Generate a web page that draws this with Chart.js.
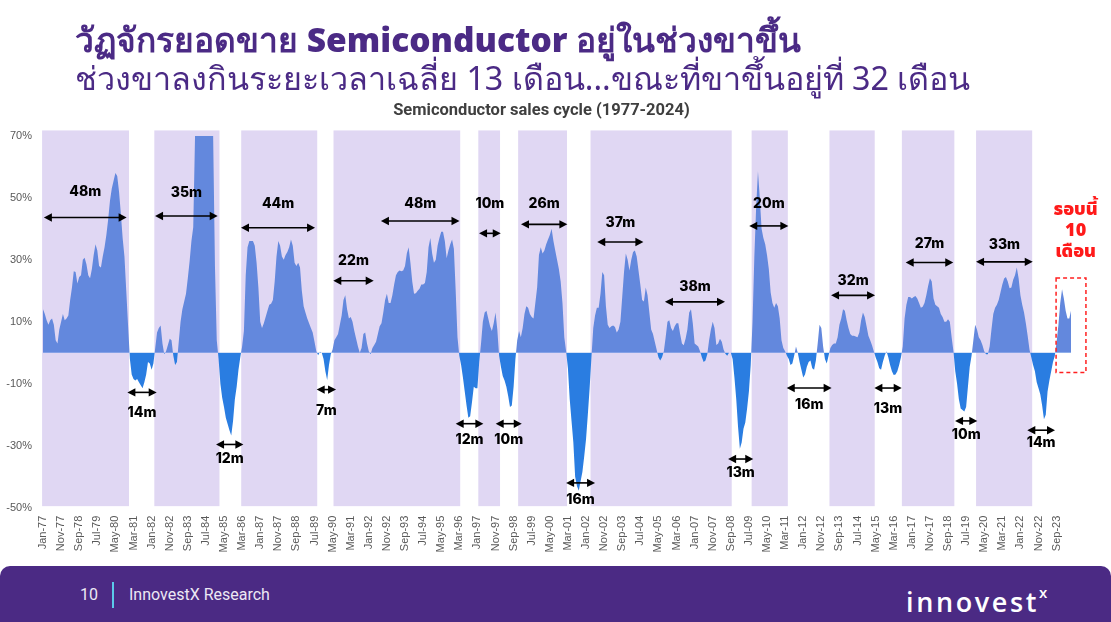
<!DOCTYPE html>
<html>
<head>
<meta charset="utf-8">
<script src="https://cdn.jsdelivr.net/npm/chart.js@4.4.1/dist/chart.umd.min.js"></script>
<style>
  html, body { margin: 0; padding: 0; background: #ffffff; }
  body { width: 1111px; height: 622px; position: relative; overflow: hidden; font-family: "Noto Sans", "DejaVu Sans", sans-serif; }
  #c { position: absolute; left: 0; top: 0; }
  .t1 { position: absolute; left: 75px; top: 19px; font-size: 33.5px; font-weight: 900; color: #4B2A85; white-space: nowrap; line-height: 40px; }
  .t2 { position: absolute; left: 75px; top: 56px; font-size: 32.3px; font-weight: 400; color: #4B2A85; white-space: nowrap; line-height: 42px; }
  .sub { position: absolute; left: 0; width: 1083px; top: 99px; text-align: center; font-family: Roboto, "Liberation Sans", sans-serif; font-weight: 700; font-size: 16.5px; color: #3F3F3F; line-height: 22px; }
  .footer { position: absolute; left: 0; top: 566px; width: 1111px; height: 56px; background: #4B2A84; border-radius: 10px 10px 0 0; }
  .pg { position: absolute; left: 80px; top: 584px; font-family: Roboto, sans-serif; font-size: 16px; color: #ECE8F4; line-height: 22px; }
  .bar { position: absolute; left: 112px; top: 582px; width: 2px; height: 26px; background: #5CC9EA; }
  .brand { position: absolute; left: 129px; top: 584px; font-family: Roboto, sans-serif; font-size: 16px; color: #ECE8F4; line-height: 22px; }
  .logo { position: absolute; left: 906px; top: 579px; font-family: "Open Sans", sans-serif; font-weight: 600; font-size: 27px; color: #ffffff; letter-spacing: 2.6px; line-height: 34px; }
  .logo sup { font-size: 15px; position: relative; top: -4px; margin-left: 0px; }
</style>
</head>
<body>
<canvas id="c" width="1111" height="622"></canvas>
<div class="t1">วัฏจักรยอดขาย Semiconductor อยู่ในช่วงขาขึ้น</div>
<div class="t2">ช่วงขาลงกินระยะเวลาเฉลี่ย 13 เดือน...ขณะที่ขาขึ้นอยู่ที่ 32 เดือน</div>
<div class="sub">Semiconductor sales cycle (1977-2024)</div>
<div class="footer"></div>
<div class="pg">10</div>
<div class="bar"></div>
<div class="brand">InnovestX Research</div>
<div class="logo">innovest<sup>x</sup></div>
<script>
// ---------- DATA ----------
const monthNames = ['Jan','Feb','Mar','Apr','May','Jun','Jul','Aug','Sep','Oct','Nov','Dec'];
const firstYear = 1977;
const monthCount = 569; // Jan-77 .. May-24
const monthLabels = [];
for (let i = 0; i < monthCount; i++) {
  const y = firstYear + Math.floor(i / 12);
  monthLabels.push(monthNames[i % 12] + '-' + String(y % 100).padStart(2, '0'));
}

// YoY semiconductor sales growth (%), one value per month
const salesGrowth = [
  14, 12.5, 10.5, 9, 10.5, 11, 9, 4, 3, 7.5, 10, 12.5,
  10.5, 11, 12, 17, 21, 26.3, 26, 22.3, 24.4, 25, 30, 30.6,
  28.5, 25, 24, 27, 31.5, 35, 33, 28, 27.5, 31, 34, 38,
  43, 49, 53, 55.5, 58, 57, 52, 45, 37, 31, 20, 8.8,
  -2, -7, -8.5, -9, -8.5, -9.5, -10.5, -11.5, -9.5, -7, -3, -3.5,
  -5.5, -3.5, 1.5, 6.5, 8, 8.8, 3, -0.5, 0.5, 2.5, 4.5, 4,
  -1, -4, -3, 3.5, 10, 14, 16.5, 19, 24, 29.5, 36, 40.5,
  70, 70, 70, 70, 70, 70, 70, 70, 70, 70, 70, 28,
  4, -2, -10, -14.5, -17.5, -21, -23, -25, -26.7, -22, -15, -11,
  -5.5, -1.5, 2, 7, 25, 34, 36, 36, 36, 34.5, 29, 21,
  10, 8, 9.5, 11.5, 13.5, 15.5, 15.8, 17, 23, 31, 36, 34.5,
  31, 30, 31.5, 32.5, 34, 36.5, 34.5, 29, 28, 29, 27.5, 20,
  15, 13, 11, 9.5, 8, 6.5, 3.5, 0.5, -0.8, 0.3, 0, -2,
  -6, -8.8, -4, -0.5, 1, 4, 5, 6, 9, 12, 17, 18.5,
  14, 11, 11.5, 10, 7, 4.5, 2, 0, 1.5, 6, 6.5, 3,
  0.5, -0.5, 1.5, 2.5, 3.5, 6, 8.5, 9.5, 13, 17, 19, 16,
  16, 18.5, 22, 25, 26, 26.5, 26.3, 26.5, 28, 32, 34, 29,
  23, 19, 19.2, 20, 20.6, 22, 22, 22.5, 26, 34, 37, 32,
  29, 30, 34.5, 37, 39, 39, 36, 30.5, 33, 35, 36.5, 33.5,
  20, 5, -1, -4, -8, -12.5, -17, -21, -20.5, -16, -11, -11.5,
  -11.5, -3, 3, 10, 13, 13.5, 11, 8.5, 7, 9.5, 13, 7.5,
  -1, -4.5, -7.5, -9, -11, -14, -17.5, -17, -11, -2, 4, 7,
  5, 8, 12.5, 15, 14.5, 12.5, 11.5, 11, 16, 21, 31.5, 34,
  32, 33, 35, 36.5, 38, 40, 36, 33, 30, 27, 23, 16,
  5, 0.5, -5, -15, -22, -29, -40, -43, -44.5, -41.5, -38.5, -33.5,
  -28, -20, -11.5, -1.5, 8, 12, 14.5, 14.5, 19, 26, 25, 15,
  9, 8, 8.5, 8.8, 8.3, 6.5, 7.5, 10, 18, 26, 32, 30,
  26.5, 30, 32.5, 33, 31, 26.5, 22, 17, 16.5, 21, 18.5, 13,
  7.5, 6, 3.5, 1, -1.5, -2.5, -1.5, 0.5, 5, 10, 10.5, 8,
  7, 8.5, 9.5, 9.5, 6, 3, 2.4, 4.5, 7.5, 13, 14, 9.5,
  3, 2.5, 2, 0.5, -1.5, -3, -2.5, -0.5, 4, 7.5, 10, 8,
  2.5, 3, 4.5, 3.5, 1, -0.3, -1, 0, 0, -2, -8, -15,
  -24, -31, -29, -24.5, -22.5, -18, -12.5, -4, 10, 31, 47, 58.5,
  50, 40, 37, 35, 31.5, 27, 19.5, 16, 14.5, 16, 15, 11,
  4, 1.5, 0.5, -1, -2, -4, -3.5, -1, 2, 0, -3, -5.5,
  -8, -7, -4.5, -3, -2.5, -5, -5.5, -2.5, 3, 9, 8, 2,
  -2, -3.5, -1, 1.5, 2.5, 3, 3, 5, 9, 11, 14, 13.5,
  10.5, 8, 6, 5.5, 5.5, 5.2, 5, 6.5, 10.5, 13, 11.5, 8.5,
  5.5, 4, 2.4, 0.5, -1.5, -3, -5, -5.5, -3, -1, 0.5, -1.5,
  -4, -6, -7.2, -7, -6, -4, -1.5, 2, 11, 15.5, 18, 18,
  17.5, 18, 18.3, 17.5, 16, 14.5, 14.8, 16, 18.5, 21.5, 24, 23,
  17.5, 15.5, 15, 14.5, 12.5, 11.5, 10, 10, 10.8, 10, 5, 0.5,
  -6, -10, -15, -18, -18.5, -19, -17.5, -11, -4.5, -1, 4, 9,
  7.5, 5, 4, 2.5, 0.5, -0.5, -0.5, 2, 7.5, 12.5, 14.5, 15.5,
  17, 19.5, 22, 23.9, 24.4, 23, 20.8, 21, 23.5, 25, 27.5, 24,
  18.5, 15.5, 13, 9.5, 5.5, 1, -1.5, -4, -6, -9.5, -11.5, -13.5,
  -17, -21.5, -20, -12.5, -9, -6, -3, -1, 3.5, 9, 16, 20.5,
  17.5, 13.5, 11, 11, 13.7
];

// Upcycle periods (first and last month of each shaded band)
const upcycleStart = ['Jan-77','Mar-82','Mar-86','Jun-90','Feb-97','Dec-98','Apr-02','Sep-09','Apr-13','Aug-16','Jan-20'];
const upcycleEnd   = ['Dec-80','Feb-85','Aug-89','Mar-96','Jan-98','Feb-01','Sep-08','Apr-11','Apr-15','Dec-18','Jul-22'];

// Duration annotations: label, from month index, to month index, arrow level (%), label level (%)
const spanLabels = ['48m','35m','44m','22m','48m','10m','26m','37m','38m','20m','32m','27m','33m',
                    '14m','12m','7m','12m','10m','16m','13m','16m','13m','10m','14m'];
const spanFrom   = [0.5, 61.9, 109.4, 160.4, 186.7, 240.9, 264.1, 306.2, 343.6, 390.2, 435.4, 476.6, 515.5,
                    46.6, 95.6, 151.2, 228, 250.1, 289, 378.5, 410.9, 459.3, 503.9, 543.8];
const spanTo     = [46.2, 96.5, 150.3, 182.7, 230.1, 252.9, 289.7, 331.7, 376.8, 411.8, 459.7, 502.9, 546.8,
                    62.8, 110.7, 161.9, 243.3, 264.5, 305, 392.4, 435.7, 474.4, 516.2, 559.1];
const spanLevel  = [43.6, 44.1, 40.3, 23.2, 42.5, 38.5, 41.4, 35.7, 16.4, 40.9, 18.5, 29.1, 29.3,
                    -12.8, -29.6, -11.9, -22.9, -22.9, -42, -34.3, -11.4, -11.4, -22, -25];
const spanLabelLevel = [51.9, 51.5, 48.1, 29.6, 47.9, 48.1, 48.1, 41.9, 21.2, 48.1, 23.2, 35, 34.9,
                    -19.4, -34.1, -18.8, -28, -28, -47.3, -38.6, -16.7, -18, -26.6, -29.1];

// Current cycle call-out
const currentFrom = 559.7, currentTo = 576.2, currentHigh = 24.1, currentLow = -6.4;
const currentText = ['รอบนี้', '10', 'เดือน'];
const currentTextAt = 570.5;
const currentTextLevels = [45.6, 38.8, 32.2];

const yMin = -50, yMax = 70, yStep = 20;

// ---------- PLUGINS ----------
const bandsPlugin = {
  id: 'bands',
  beforeDatasetsDraw(chart) {
    const {ctx, scales: {x, y}} = chart;
    ctx.save();
    ctx.fillStyle = '#E0D7F3';
    const top = y.getPixelForValue(71.7), bot = y.getPixelForValue(-49.5);
    for (let i = 0; i < upcycleStart.length; i++) {
      const a = monthLabels.indexOf(upcycleStart[i]) - 0.5;
      const b = monthLabels.indexOf(upcycleEnd[i]) + 0.5;
      const x1 = x.getPixelForValue(a), x2 = x.getPixelForValue(b);
      ctx.fillRect(x1, top, x2 - x1, bot - top);
    }
    ctx.restore();
  }
};

function arrowHead(ctx, xTip, yc, dir) {
  const L = 8, H = 4.2;
  ctx.beginPath();
  ctx.moveTo(xTip, yc);
  ctx.lineTo(xTip - dir * L, yc - H);
  ctx.lineTo(xTip - dir * L, yc + H);
  ctx.closePath();
  ctx.fill();
}

const annotPlugin = {
  id: 'annot',
  afterDatasetsDraw(chart) {
    const {ctx, scales: {x, y}} = chart;
    ctx.save();
    ctx.strokeStyle = '#000';
    ctx.fillStyle = '#000';
    ctx.lineWidth = 1.6;
    ctx.font = '800 14px Inter, "Liberation Sans", sans-serif';
    ctx.textAlign = 'center';
    ctx.textBaseline = 'middle';
    for (let i = 0; i < spanLabels.length; i++) {
      const x1 = x.getPixelForValue(spanFrom[i]);
      const x2 = x.getPixelForValue(spanTo[i]);
      const yy = y.getPixelForValue(spanLevel[i]);
      ctx.beginPath();
      ctx.moveTo(x1 + 4, yy);
      ctx.lineTo(x2 - 4, yy);
      ctx.stroke();
      arrowHead(ctx, x1, yy, -1);
      arrowHead(ctx, x2, yy, 1);
      ctx.fillText(spanLabels[i], (x1 + x2) / 2, y.getPixelForValue(spanLabelLevel[i]));
    }
    // current cycle box
    const bx1 = x.getPixelForValue(currentFrom), bx2 = x.getPixelForValue(currentTo);
    const by1 = y.getPixelForValue(currentHigh), by2 = y.getPixelForValue(currentLow);
    ctx.strokeStyle = '#FF2020';
    ctx.lineWidth = 1.5;
    ctx.setLineDash([4, 3]);
    ctx.strokeRect(bx1, by1, bx2 - bx1, by2 - by1);
    ctx.setLineDash([]);
    ctx.fillStyle = '#FF1A1A';
    ctx.font = '900 18px "Noto Sans Thai", "Noto Sans", Inter, sans-serif';
    const tx = x.getPixelForValue(currentTextAt);
    for (let i = 0; i < currentText.length; i++) {
      ctx.fillText(currentText[i], tx, y.getPixelForValue(currentTextLevels[i]));
    }
    ctx.restore();
  }
};

// ---------- CHART ----------
new Chart(document.getElementById('c'), {
  type: 'line',
  data: {
    labels: monthLabels,
    datasets: [{
      data: salesGrowth,
      borderWidth: 0,
      borderColor: 'rgba(0,0,0,0)',
      pointRadius: 0,
      tension: 0,
      fill: { target: 'origin', above: '#6388DD', below: '#2A7DE1' }
    }]
  },
  options: {
    responsive: false,
    animation: false,
    devicePixelRatio: 1,
    layout: { padding: { top: 135.7, bottom: 64.3, left: 0, right: 39.9 } },
    plugins: { legend: { display: false }, tooltip: { enabled: false }, title: { display: false } },
    scales: {
      x: {
        type: 'category',
        offset: false,
        grid: { display: false, drawTicks: false },
        border: { display: false },
        ticks: {
          autoSkip: false,
          maxRotation: 90,
          minRotation: 90,
          padding: 8,
          color: '#595959',
          font: { family: '"Liberation Sans", Arial, sans-serif', size: 11 },
          callback: (v, i) => (i % 10 === 0 ? monthLabels[i] : null)
        },
        afterFit: s => { s.height = 50; }
      },
      y: {
        min: yMin, max: yMax,
        grid: { display: false, drawTicks: false },
        border: { display: false },
        ticks: {
          stepSize: yStep,
          padding: 11,
          color: '#595959',
          font: { family: '"Liberation Sans", Arial, sans-serif', size: 11 },
          callback: v => v + '%'
        },
        afterFit: s => { s.width = 43; }
      }
    }
  },
  plugins: [bandsPlugin, annotPlugin]
});
</script>
</body>
</html>
